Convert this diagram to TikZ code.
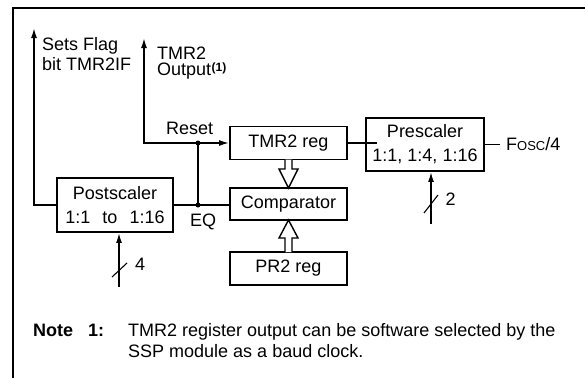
\documentclass[tikz,border=0pt]{standalone}
\usepackage{fontspec}
\setmainfont{Liberation Sans}
\usetikzlibrary{arrows.meta,calc}
\begin{document}
\begin{tikzpicture}[x=1pt,y=-1pt,
  wire/.style={line width=1.6pt},
  tip/.style={-{Latex[length=10pt,width=6pt]}},
  blk/.style={draw,line width=1.8pt,minimum width=117pt,align=center,inner sep=0pt,font=\fontsize{18}{24}\selectfont},
  lbl/.style={inner sep=0pt,anchor=base west,font=\fontsize{18}{20}\selectfont},
  bold/.style={lbl,font=\fontsize{18}{20}\selectfont\bfseries},
  jdot/.style={circle,fill,inner sep=0pt,minimum size=5pt},
  hollow/.style={line width=1.4pt,fill=white,line join=miter},
  slash/.style={line width=1.1pt}]
\useasboundingbox (0,0) rectangle (585,378);
% frame
\draw[line width=2pt] (12.5,378) -- (12.5,7.5) -- (585,7.5);
% blocks
\node[blk,minimum height=33pt] (tmr) at (288.5,143) {TMR2 reg};
\node[blk,minimum height=32pt] (cmp) at (288.5,204) {Comparator};
\node[blk,minimum height=33pt] (pr2) at (288.5,268.5) {PR2 reg};
\node[blk,minimum width=118pt,minimum height=53pt] (pre) at (425,144.5) {Prescaler\\1:1, 1:4, 1:16};
\node[blk,minimum width=116pt,minimum height=54pt] (post) at (115,205) {Postscaler\\1:1\hspace{0.67em}to\hspace{0.67em}1:16};
% coordinates
\coordinate (flagtop) at (34,28);
\coordinate (flagbend) at (34,205);
\coordinate (rbend) at (144,143);
\coordinate (outtop) at (144,38);
\coordinate (eqj) at (198,205);
\coordinate (rj) at (198,143);
\coordinate (pin) at (377,143);
\coordinate (fend) at (500,144.5);
\coordinate (pbot) at (431,224);
\coordinate (qbot) at (119,287);
% connectors
\draw[wire,tip] (post.west) -- (flagbend) -- (flagtop);
\draw[wire] (post.east) -- (post.east -| cmp.west);
\draw[wire] (eqj) -- (rj);
\draw[wire,{Latex[length=10pt,width=6pt]}-{Latex[length=10pt,width=6pt]}] (outtop) -- (rbend) -- (tmr.west);
\node[jdot] (eqdot) at (eqj) {};
\node[jdot] (rdot) at (rj) {};
\draw[wire] (tmr.east) -- (pin);
\draw[wire] (pre.east) -- (fend);
\draw[wire,tip] (pbot) -- (pbot |- pre.south);
\draw[slash] (424,213) -- (438,195);
\draw[wire,tip] (qbot) -- (qbot |- post.south);
\draw[slash] (112,277) -- (127,263);
% hollow bus arrows
\draw[hollow] (285,159.5) -- (285,169) -- (279,169) -- (288.5,188) -- (298,169) -- (292,169) -- (292,159.5);
\draw[hollow] (285,252) -- (285,238) -- (279,238) -- (288.5,220) -- (298,238) -- (292,238) -- (292,252);
% labels
\node[lbl] (fosc) at (506,150.7) {F{\fontsize{13}{13}\selectfont OSC}/4};
\node[lbl] (two) at (445.5,205) {2};
\node[lbl] (four) at (135,270.7) {4};
\node[lbl] (sf1) at (42,50.7) {Sets Flag};
\node[lbl] (sf2) at (42,70.7) {bit TMR2IF};
\node[lbl] (to1) at (157,59.3) {TMR2};
\node[lbl] (to2) at (157,75.7) {Output};
\node[lbl,font=\fontsize{12}{12}\selectfont\bfseries] (to3) at (to2.base east) [yshift=4pt] {(1)};
\node[lbl] (rs) at (166,134) {Reset};
\node[lbl] (eq) at (190,226) {EQ};
\node[bold] (nt) at (33,336.7) {Note};
\node[bold] (n1) at (88,336.7) {1:};
\node[lbl] (nb1) at (128,336.7) {TMR2 register output can be software selected by the};
\node[lbl] (nb2) at (128,357.7) {SSP module as a baud clock.};
\end{tikzpicture}
\end{document}
